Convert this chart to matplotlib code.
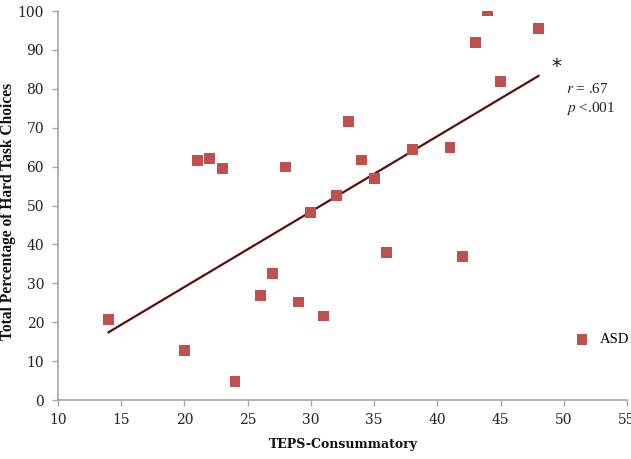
import numpy as np
import matplotlib
matplotlib.use("Agg")
import matplotlib.pyplot as plt

# TEPS-Consummatory score vs. % hard task choices (ASD group)
teps = [14, 20, 21, 22, 23, 24, 26, 27, 28, 29, 30, 31,
        32, 33, 34, 35, 36, 38, 41, 42, 43, 44, 45, 48]
hard_pct = [20.7, 12.7, 61.6, 62.0, 59.4, 4.8, 26.9, 32.6, 59.9, 25.2, 48.2, 21.6,
            52.5, 71.5, 61.7, 57.0, 38.0, 64.5, 64.9, 36.8, 91.9, 100.0, 81.8, 95.4]
x_ticks = [10, 15, 20, 25, 30, 35, 40, 45, 50, 55]
y_ticks = [0, 10, 20, 30, 40, 50, 60, 70, 80, 90, 100]

point_color = '#C0504D'
line_color = '#5C0E0E'
axis_color = '#A6A6A6'

fig = plt.figure(figsize=(6.31, 4.59), dpi=100)
ax = fig.add_axes([0.0919, 0.1285, 0.9018, 0.8475])

ax.scatter(teps, hard_pct, marker='s', s=62, color=point_color,
           edgecolors='none', zorder=3, label='ASD')

# linear trend line over the data range
slope, intercept = np.polyfit(teps, hard_pct, 1)
xs = np.array([min(teps), max(teps)])
ax.plot(xs, slope * xs + intercept, color=line_color, linewidth=1.6, zorder=2)

ax.set_xlim(10, 55)
ax.set_ylim(0, 100)
ax.set_xticks(x_ticks)
ax.set_yticks(y_ticks)

for side in ['top', 'right']:
    ax.spines[side].set_visible(False)
for side in ['left', 'bottom']:
    ax.spines[side].set_color(axis_color)
    ax.spines[side].set_linewidth(1.2)
ax.tick_params(colors=axis_color, length=4, width=1.0)
ax.tick_params(axis='y', pad=6)
ax.tick_params(axis='x', pad=5)
for lab in ax.get_xticklabels() + ax.get_yticklabels():
    lab.set_color('#222222')
    lab.set_fontfamily('DejaVu Serif')
    lab.set_fontsize(10)

ax.set_xlabel('TEPS-Consummatory', fontsize=9, fontweight='bold',
              family='DejaVu Serif', color='#111111')
ax.xaxis.set_label_coords(0.502, -0.097)
ax.set_ylabel('Total Percentage of Hard Task Choices', fontsize=11.2,
              fontweight='bold', family='Liberation Serif', color='#111111')
ax.yaxis.set_label_coords(-0.073, 0.486)

ax.text(49.0, 84.3, '*', fontsize=14, family='DejaVu Sans', color='#111111')
ax.text(50.2, 79.0, r'$r$ = .67', fontsize=11, family='Liberation Serif',
        color='#222222', math_fontfamily='stix')
ax.text(50.2, 74.0, r'$p$ <.001', fontsize=11, family='Liberation Serif',
        color='#222222', math_fontfamily='stix')

leg = ax.legend(loc='center left', bbox_to_anchor=(0.885, 0.155), frameon=False,
                handletextpad=0.2, borderaxespad=0,
                prop={'family': 'Liberation Serif', 'size': 10.5})

fig.savefig('out.png', dpi=100)
